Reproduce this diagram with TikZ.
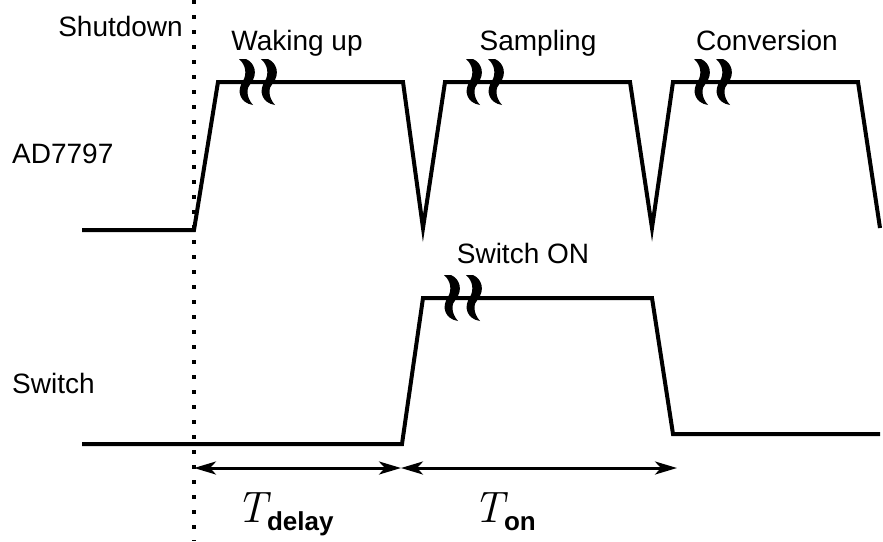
\documentclass[tikz,border=0pt]{standalone}
\usepackage{fontspec}
\setmainfont{Liberation Sans}
\newfontfamily\lmfont{Latin Modern Roman}
\usetikzlibrary{arrows.meta}
\tikzset{
  trace/.style={line width=4pt,line join=miter},
  span/.style={line width=3pt,{Stealth[length=22pt,width=13pt,inset=6pt]}-{Stealth[length=22pt,width=13pt,inset=6pt]}},
  lab/.style={font=\fontsize{28}{30}\selectfont,inner sep=0pt,anchor=base}
}
\begin{document}
\begin{tikzpicture}[x=1pt,y=-1pt]
  \useasboundingbox (0,0) rectangle (883,541);
  \draw[line width=4pt,dash pattern=on 4pt off 11pt] (194,0) -- (194,541);
  \draw[trace] (82,230) -- (194,230) -- (218,82) -- (403,82) -- (423,228)
    -- (445,82) -- (630,82) -- (652,228) -- (673,82) -- (858,82) -- (880,228);
  \draw[trace] (82,444) -- (402,444) -- (423,298) -- (652,298) -- (673,434) -- (880,434);
  \foreach \x/\y in {246/82, 473/82, 701/82, 451/298} {
    \foreach \dx in {0,22} {
      \begin{scope}[shift={(\x+\dx,\y)}]
        \fill (-7,-23) -- (0,-23) .. controls (9,-19) and (12,-8) .. (5,1)
          .. controls (0,6) and (0,15) .. (7,23)
          .. controls (-6,21) and (-10,9) .. (-3,-1)
          .. controls (1,-8) and (0,-17) .. cycle;
      \end{scope}
    }
  }
  \node[lab,anchor=base east] (shutdown) at (183,36) {Shutdown};
  \node[lab] (waking) at (297,50) {Waking up};
  \node[lab] (sampling) at (538,50) {Sampling};
  \node[lab] (conversion) at (767,50) {Conversion};
  \node[lab,anchor=base west] (adc) at (12,163) {AD7797};
  \node[lab] (switchon) at (523,263) {Switch ON};
  \node[lab,anchor=base west] (switch) at (12,393) {Switch};
  \coordinate (tstart) at (194,468);
  \coordinate (tmid) at (401,468);
  \coordinate (tend) at (677,468);
  \draw[span] (tstart) -- (tmid);
  \draw[span] (tmid) -- (tend);
  \node[inner sep=0pt,anchor=base west] (tdelay) at (236,522)
    {\fontsize{44}{44}\selectfont{\lmfont\itshape T}\raisebox{-8pt}{\fontsize{26}{26}\selectfont\bfseries delay}};
  \node[inner sep=0pt,anchor=base west] (ton) at (473,522)
    {\fontsize{44}{44}\selectfont{\lmfont\itshape T}\raisebox{-8pt}{\fontsize{26}{26}\selectfont\bfseries on}};
\end{tikzpicture}
\end{document}
